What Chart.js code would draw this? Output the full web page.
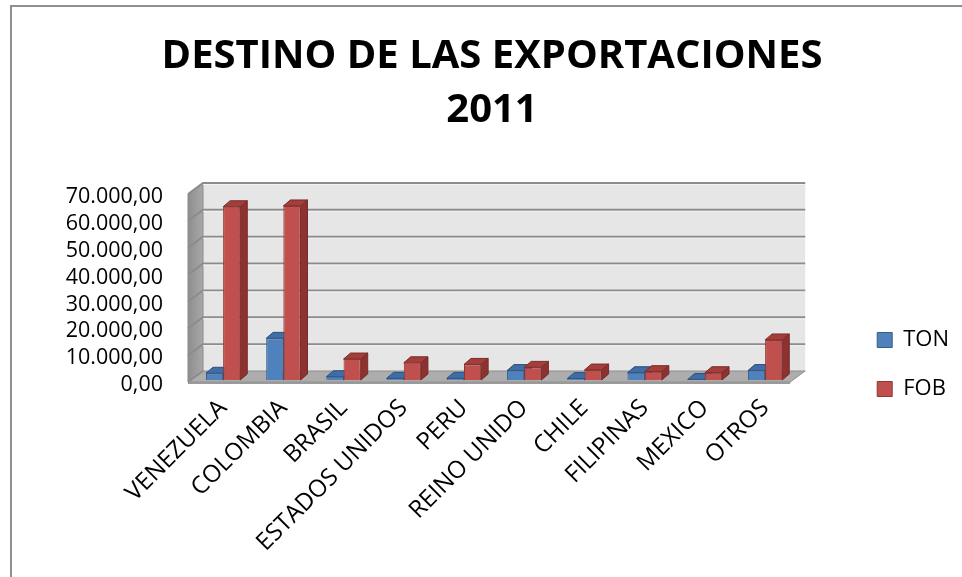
<!DOCTYPE html>
<html>
<head>
<meta charset="utf-8">
<script src="https://cdn.jsdelivr.net/npm/chart.js@4.4.0/dist/chart.umd.min.js"></script>
<style>
  html, body { margin: 0; padding: 0; background: #fff; }
  #wrap { width: 962px; height: 577px; }
</style>
</head>
<body>
<div id="wrap"><canvas id="exportChart" width="962" height="577"></canvas></div>
<script>
// --- data ---
const categories = ['VENEZUELA', 'COLOMBIA', 'BRASIL', 'ESTADOS UNIDOS', 'PERU',
                    'REINO UNIDO', 'CHILE', 'FILIPINAS', 'MEXICO', 'OTROS'];
const tonValues = [2500, 15500, 1200, 600, 600, 3500, 500, 2700, 200, 3500];
const fobValues = [64500, 64800, 7800, 6400, 5800, 4700, 3700, 3100, 2700, 14900];
const yTickLabels = ['0,00', '10.000,00', '20.000,00', '30.000,00', '40.000,00',
                     '50.000,00', '60.000,00', '70.000,00'];
const titleLines = ['DESTINO DE LAS EXPORTACIONES', '2011'];

const FONT = "'Open Sans', sans-serif";

// 3D look: offsets of the front edge and back wall from the bar plane
const front = { dx: -5, dy: 2 };
const back = { dx: 10, dy: -9 };
const barDepth = { dx: 7, dy: -6 };

function poly(ctx, pts, fill, stroke) {
    ctx.beginPath();
    ctx.moveTo(pts[0][0], pts[0][1]);
    for (let i = 1; i < pts.length; i++) ctx.lineTo(pts[i][0], pts[i][1]);
    ctx.closePath();
    if (fill) { ctx.fillStyle = fill; ctx.fill(); }
    if (stroke) { ctx.strokeStyle = stroke; ctx.lineWidth = 1; ctx.stroke(); }
}

const frame3d = {
    id: 'frame3d',
    beforeDraw(chart) {
        const ctx = chart.ctx;
        ctx.save();
        ctx.strokeStyle = '#8f8f8f';
        ctx.lineWidth = 2;
        ctx.beginPath();
        ctx.moveTo(11, 577);
        ctx.lineTo(11, 6);
        ctx.lineTo(962, 6);
        ctx.stroke();
        ctx.restore();
    },
    beforeDatasetsDraw(chart) {
        const ctx = chart.ctx;
        const { left: L, right: R } = chart.chartArea;
        const ys = chart.scales.y;
        const y0 = ys.getPixelForValue(0);
        const yTop = ys.getPixelForValue(ys.max);
        ctx.save();

        // back wall
        ctx.fillStyle = '#e6e6e6';
        ctx.fillRect(L + back.dx, yTop + back.dy, R - L, y0 - yTop);

        // left wall
        const g = ctx.createLinearGradient(L + front.dx, 0, L + back.dx, 0);
        g.addColorStop(0, '#8e8e8e');
        g.addColorStop(1, '#a8a8a8');
        poly(ctx, [[L + front.dx, yTop + front.dy], [L + back.dx, yTop + back.dy],
                   [L + back.dx, y0 + back.dy], [L + front.dx, y0 + front.dy]], g, '#8a8a8a');

        // floor
        poly(ctx, [[L + front.dx, y0 + front.dy], [R + front.dx, y0 + front.dy],
                   [R + back.dx, y0 + back.dy], [L + back.dx, y0 + back.dy]], '#adadad', '#8e8e8e');
        ctx.fillStyle = '#9a9a9a';
        ctx.fillRect(L + front.dx, y0 + front.dy, R - L, 2);

        // grid lines on the back wall and left wall
        ys.ticks.forEach(t => {
            const yp = ys.getPixelForValue(t.value);
            ctx.strokeStyle = '#8c8c8c';
            ctx.lineWidth = 2;
            ctx.beginPath();
            ctx.moveTo(L + front.dx, yp + front.dy);
            ctx.lineTo(L + back.dx, yp + back.dy);
            if (t.value > 0) ctx.lineTo(R + back.dx, yp + back.dy);
            ctx.stroke();
            if (t.value > 0) {
                ctx.strokeStyle = '#f4f4f4';
                ctx.lineWidth = 1;
                ctx.beginPath();
                ctx.moveTo(L + back.dx, yp + back.dy + 1.5);
                ctx.lineTo(R + back.dx, yp + back.dy + 1.5);
                ctx.stroke();
            }
        });

        // top and side faces of every bar (fronts are drawn by Chart.js after this)
        const faces = [
            { top: '#3f6da5', side: '#335a89', line: '#2c4f7a' },
            { top: '#a33e3b', side: '#8c3230', line: '#7a2b29' }
        ];
        for (let i = 0; i < categories.length; i++) {
            chart.data.datasets.forEach((ds, d) => {
                const bar = chart.getDatasetMeta(d).data[i];
                const { x, y, base, width } = bar.getProps(['x', 'y', 'base', 'width'], true);
                const l = x - width / 2, r = x + width / 2;
                const f = faces[d];
                poly(ctx, [[r, y], [r + barDepth.dx, y + barDepth.dy],
                           [r + barDepth.dx, base + barDepth.dy], [r, base]], f.side, f.line);
                poly(ctx, [[l, y], [r, y], [r + barDepth.dx, y + barDepth.dy],
                           [l + barDepth.dx, y + barDepth.dy]], f.top, f.line);
            });
        }
        ctx.restore();
    }
};

new Chart(document.getElementById('exportChart'), {
    type: 'bar',
    data: {
        labels: categories,
        datasets: [
            {
                label: 'TON',
                data: tonValues,
                backgroundColor: '#4f81bd',
                borderColor: '#385d8a',
                borderWidth: 1
            },
            {
                label: 'FOB',
                data: fobValues,
                backgroundColor: '#c0504d',
                borderColor: '#8c3836',
                borderWidth: 1
            }
        ]
    },
    options: {
        responsive: false,
        animation: false,
        devicePixelRatio: 1,
        categoryPercentage: 0.57,
        barPercentage: 1,
        layout: { padding: { left: 25, right: 3, top: 0, bottom: 0 } },
        plugins: {
            tooltip: { enabled: false },
            title: {
                display: true,
                text: titleLines,
                color: '#000',
                font: { family: FONT, size: 40, weight: 'bold', lineHeight: 1.35 },
                padding: { top: 30, bottom: 54 }
            },
            legend: {
                position: 'right',
                align: 'start',
                title: { display: true, text: '', padding: { top: 287.6, bottom: 0 } },
                labels: {
                    boxWidth: 15,
                    boxHeight: 15,
                    padding: 27,
                    color: '#000',
                    font: { family: FONT, size: 22 }
                }
            }
        },
        scales: {
            x: {
                grid: { display: false },
                border: { display: false },
                ticks: {
                    autoSkip: false,
                    minRotation: 45,
                    maxRotation: 45,
                    padding: 6,
                    color: '#000',
                    font: { family: FONT, size: 24 }
                },
                afterFit: s => { s.height = 197; }
            },
            y: {
                min: 0,
                max: 70000,
                grid: { display: false, drawTicks: false },
                border: { display: false },
                ticks: {
                    autoSkip: false,
                    stepSize: 10000,
                    padding: 30,
                    labelOffset: 5,
                    color: '#000',
                    font: { family: FONT, size: 21.5 },
                    callback: (v, i) => yTickLabels[i]
                },
                afterFit: s => { s.width = 168; }
            },
            spacer: {
                type: 'linear',
                position: 'right',
                grid: { display: false },
                border: { display: false },
                ticks: { display: false },
                afterFit: s => { s.width = 55; }
            }
        }
    },
    plugins: [frame3d]
});
</script>
</body>
</html>
